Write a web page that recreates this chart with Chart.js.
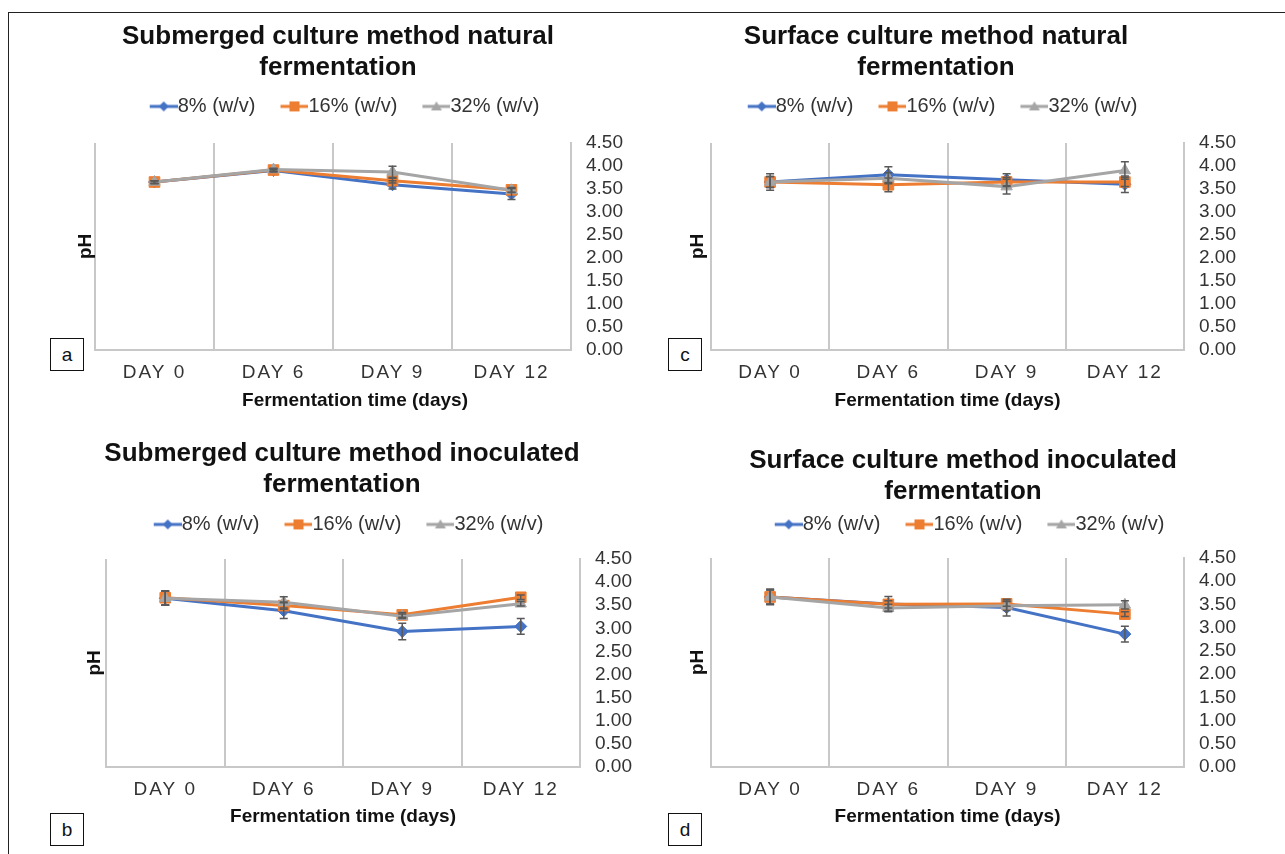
<!DOCTYPE html>
<html>
<head>
<meta charset="utf-8">
<script src="https://cdn.jsdelivr.net/npm/chart.js@4.4.0/dist/chart.umd.min.js"></script>
<style>
  html, body { margin: 0; padding: 0; background: #fff; }
  body { width: 1285px; height: 854px; position: relative; overflow: hidden; font-family: 'Liberation Sans', Arial, sans-serif; }
  .frame { position: absolute; left: 8px; top: 12px; width: 1300px; height: 860px; border: 1.5px solid #222; }
  .panel { position: absolute; }
  .tag { position: absolute; width: 32px; height: 31px; border: 1px solid #111; background: #fff;
         font: 19px 'Liberation Sans Narrow', 'Liberation Sans', sans-serif; color: #111; text-align: center; line-height: 31px; }
</style>
</head>
<body>
<div class="frame"></div>
<div class="panel" style="left:40px;top:14px"><canvas id="chartA" width="596" height="402"></canvas></div>
<div class="panel" style="left:627px;top:14px"><canvas id="chartC" width="618" height="402"></canvas></div>
<div class="panel" style="left:44px;top:430px"><canvas id="chartB" width="596" height="403"></canvas></div>
<div class="panel" style="left:676px;top:430px"><canvas id="chartD" width="574" height="403"></canvas></div>
<div class="tag" style="left:50px;top:338px">a</div>
<div class="tag" style="left:668px;top:338px">c</div>
<div class="tag" style="left:50px;top:813px">b</div>
<div class="tag" style="left:668px;top:813px">d</div>
<script>
const days = ['DAY 0', 'DAY 6', 'DAY 9', 'DAY 12'];
const seriesNames = ['8% (w/v)', '16% (w/v)', '32% (w/v)'];
const yMin = 0, yMax = 4.5, yStep = 0.5;

// (a) submerged culture, natural fermentation
const subNat8 = [3.65, 3.90, 3.59, 3.39];
const subNat16 = [3.65, 3.91, 3.68, 3.48];
const subNat32 = [3.65, 3.92, 3.87, 3.47];
const subNat8Err = [0.03, 0.03, 0.09, 0.12];
const subNat16Err = [0.03, 0.03, 0.05, 0.05];
const subNat32Err = [0.03, 0.03, 0.12, 0.05];

// (c) surface culture, natural fermentation
const surNat8 = [3.65, 3.81, 3.70, 3.60];
const surNat16 = [3.65, 3.59, 3.65, 3.65];
const surNat32 = [3.65, 3.73, 3.55, 3.90];
const surNat8Err = [0.18, 0.17, 0.13, 0.18];
const surNat16Err = [0.12, 0.15, 0.10, 0.10];
const surNat32Err = [0.12, 0.12, 0.16, 0.19];

// (b) submerged culture, inoculated fermentation
const subIno8 = [3.65, 3.38, 2.93, 3.04];
const subIno16 = [3.66, 3.49, 3.29, 3.67];
const subIno32 = [3.65, 3.56, 3.26, 3.53];
const subIno8Err = [0.15, 0.17, 0.18, 0.17];
const subIno16Err = [0.15, 0.08, 0.05, 0.05];
const subIno32Err = [0.15, 0.12, 0.05, 0.05];

// (d) surface culture, inoculated fermentation
const surIno8 = [3.66, 3.51, 3.43, 2.86];
const surIno16 = [3.66, 3.50, 3.51, 3.29];
const surIno32 = [3.66, 3.42, 3.47, 3.49];
const surIno8Err = [0.17, 0.16, 0.18, 0.17];
const surIno16Err = [0.15, 0.08, 0.05, 0.05];
const surIno32Err = [0.15, 0.08, 0.10, 0.09];

const colors = ['#4472C4', '#ED7D31', '#A5A5A5'];
const markers = ['rectRot', 'rect', 'triangle'];
const markerRadius = [6, 7.5, 6.5];

const FONT = "'Liberation Sans', Arial, sans-serif";
const LEG_FONT = 20, LEG_PAD = 12, LEG_BOX = 31;

// legend symbol: short line with the series marker, as Excel draws it
function legendSymbol(i) {
  const c = document.createElement('canvas');
  c.width = LEG_BOX + LEG_FONT;
  c.height = 14;
  const g = c.getContext('2d');
  const x0 = c.width - 28, x1 = c.width, cy = 7, mx = (x0 + x1) / 2;
  g.strokeStyle = colors[i];
  g.fillStyle = colors[i];
  g.lineWidth = 3;
  g.beginPath(); g.moveTo(x0, cy); g.lineTo(x1, cy); g.stroke();
  g.beginPath();
  if (i === 0) { g.moveTo(mx, cy - 5); g.lineTo(mx + 5, cy); g.lineTo(mx, cy + 5); g.lineTo(mx - 5, cy); }
  else if (i === 1) { g.rect(mx - 5, cy - 5, 10, 10); }
  else { g.moveTo(mx, cy - 5); g.lineTo(mx + 5.5, cy + 4); g.lineTo(mx - 5.5, cy + 4); }
  g.closePath(); g.fill();
  return c;
}
const symbols = [0, 1, 2].map(legendSymbol);

const errorBars = {
  id: 'errorBars',
  afterDatasetsDraw(chart) {
    const { ctx } = chart;
    const y = chart.scales.y;
    chart.data.datasets.forEach((ds, i) => {
      const meta = chart.getDatasetMeta(i);
      ctx.save();
      ctx.strokeStyle = '#595959';
      ctx.lineWidth = 1.5;
      meta.data.forEach((pt, j) => {
        const v = ds.data[j], e = ds.errors[j];
        const top = y.getPixelForValue(v + e), bot = y.getPixelForValue(v - e);
        ctx.beginPath();
        ctx.moveTo(pt.x, top); ctx.lineTo(pt.x, bot);
        ctx.moveTo(pt.x - 4, top); ctx.lineTo(pt.x + 4, top);
        ctx.moveTo(pt.x - 4, bot); ctx.lineTo(pt.x + 4, bot);
        ctx.stroke();
      });
      ctx.restore();
    });
  }
};

// spaced-out category labels and a small sideways nudge of the x title
const xAxisStyle = {
  id: 'xAxisStyle',
  afterUpdate(chart, args, opts) {
    const x = chart.scales.x;
    if (x._styled) return;
    x._styled = true;
    const drawLabels = x.drawLabels.bind(x), drawTitle = x.drawTitle.bind(x);
    x.drawLabels = area => {
      const c = x.ctx;
      c.save(); c.letterSpacing = opts.spacing + 'px'; drawLabels(area); c.restore();
    };
    x.drawTitle = () => {
      const c = x.ctx;
      c.save(); c.translate(opts.titleShift, 0); drawTitle(); c.restore();
    };
  }
};

function makeChart(canvasId, title, values, errors, box) {
  const datasets = values.map((vals, i) => ({
    label: seriesNames[i],
    data: vals,
    errors: errors[i],
    borderColor: colors[i],
    backgroundColor: colors[i],
    borderWidth: 3,
    pointStyle: markers[i],
    pointRadius: markerRadius[i],
    pointBorderWidth: 1,
    tension: 0,
    order: 3 - i
  }));

  return new Chart(document.getElementById(canvasId), {
    type: 'line',
    data: { labels: days, datasets },
    options: {
      responsive: false,
      animation: false,
      devicePixelRatio: 1,
      layout: { padding: 0 },
      plugins: {
        title: {
          display: true,
          text: title,
          color: '#111',
          font: { family: FONT, size: 26, weight: 'bold', lineHeight: 1.2 },
          padding: { top: box.titleTop, bottom: box.titleBottom }
        },
        legend: {
          position: 'top',
          labels: {
            usePointStyle: true,
            pointStyleWidth: LEG_BOX,
            padding: LEG_PAD,
            color: '#333',
            font: { family: FONT, size: LEG_FONT },
            sort: (a, b) => a.datasetIndex - b.datasetIndex,
            generateLabels: chart => Chart.defaults.plugins.legend.labels.generateLabels(chart)
              .map(l => Object.assign(l, { pointStyle: symbols[l.datasetIndex] }))
          }
        },
        tooltip: { enabled: false },
        xAxisStyle: { spacing: 2, titleShift: box.xShift || 0 }
      },
      scales: {
        x: {
          position: 'bottom',
          offset: true,
          grid: { display: true, offset: true, color: '#c8c8c8', lineWidth: 2, drawTicks: false },
          border: { display: true, color: '#c8c8c8', width: 2 },
          ticks: { color: '#333', padding: 11.6, font: { family: FONT, size: 19 } },
          title: {
            display: true,
            text: 'Fermentation time (days)',
            color: '#111',
            font: { family: FONT, size: 19, weight: 'bold' },
            padding: { top: 0, bottom: box.xTitleBottom }
          },
          afterFit: s => { s.height = box.xHeight; }
        },
        gap: {
          type: 'category',
          position: 'top',
          grid: { display: false },
          border: { display: false },
          ticks: { display: false },
          afterFit: s => { s.height = box.gap; }
        },
        y: {
          position: 'right',
          min: yMin,
          max: yMax,
          grid: { display: false, drawTicks: false },
          border: { display: true, color: '#c8c8c8', width: 2 },
          ticks: {
            stepSize: yStep,
            autoSkip: false,
            padding: 15,
            color: '#333',
            font: { family: FONT, size: 19 },
            callback: v => Number(v).toFixed(2)
          },
          afterFit: s => { s.width = box.yWidth; }
        },
        yL: {
          position: 'left',
          min: yMin,
          max: yMax,
          grid: { display: false },
          border: { display: false },
          ticks: { display: false },
          title: {
            display: true,
            text: 'pH',
            color: '#111',
            font: { family: FONT, size: 19, weight: 'bold' },
            padding: { top: box.phPad, bottom: 0 }
          },
          afterFit: s => { s.width = box.yLWidth; }
        }
      }
    },
    plugins: [errorBars, xAxisStyle]
  });
}

makeChart('chartA', ['Submerged culture method natural', 'fermentation'],
  [subNat8, subNat16, subNat32], [subNat8Err, subNat16Err, subNat32Err],
  { titleTop: 7.4, titleBottom: 0.6, gap: 16.5, xHeight: 66, xTitleBottom: 3.6, yWidth: 65, yLWidth: 55, phPad: 34.6, xShift: 22 });

makeChart('chartC', ['Surface culture method natural', 'fermentation'],
  [surNat8, surNat16, surNat32], [surNat8Err, surNat16Err, surNat32Err],
  { titleTop: 7.4, titleBottom: 0.6, gap: 16.5, xHeight: 66, xTitleBottom: 3.6, yWidth: 61, yLWidth: 84, phPad: 59.6 });

makeChart('chartB', ['Submerged culture method inoculated', 'fermentation'],
  [subIno8, subIno16, subIno32], [subIno8Err, subIno16Err, subIno32Err],
  { titleTop: 8.4, titleBottom: 1.6, gap: 14.5, xHeight: 66, xTitleBottom: 4.6, yWidth: 60, yLWidth: 62, phPad: 39.6 });

makeChart('chartD', ['Surface culture method inoculated', 'fermentation'],
  [surIno8, surIno16, surIno32], [surIno8Err, surIno16Err, surIno32Err],
  { titleTop: 15.4, titleBottom: -5.4, gap: 13.5, xHeight: 66, xTitleBottom: 4.6, yWidth: 66, yLWidth: 35, phPad: 10.6 });
</script>
</body>
</html>
